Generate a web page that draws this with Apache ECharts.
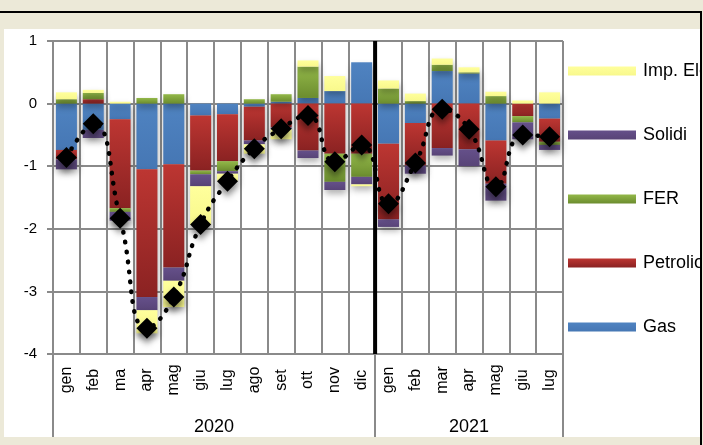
<!DOCTYPE html>
<html>
<head>
<meta charset="utf-8">
<script src="https://cdn.jsdelivr.net/npm/echarts@6/dist/echarts.min.js"></script>
<style>
  html, body { margin: 0; padding: 0; background: #ffffff; }
  #chart { width: 703px; height: 445px; }
</style>
</head>
<body>
<div id="chart"></div>
<script>
// Monthly contributions by source (2020 - mid 2021)
const months = ['gen', 'feb', 'ma', 'apr', 'mag', 'giu', 'lug', 'ago', 'set', 'ott', 'nov', 'dic',
                'gen', 'feb', 'mar', 'apr', 'mag', 'giu', 'lug'];
const years = ['2020', '2021'];
const monthsPerYear = [12, 7];

const gas      = [-0.74, -0.42, -0.25, -1.05, -0.97, -0.19, -0.17, -0.05, 0.03, 0.09, 0.20, 0.66,
                  -0.64, -0.31, 0.52, 0.48, -0.59, 0.00, -0.24];
const petrolio = [-0.15, 0.07, -1.42, -2.04, -1.65, -0.88, -0.75, -0.54, -0.38, -0.75, -0.80, -0.80,
                  -1.21, -0.68, -0.71, -0.73, -0.69, -0.20, -0.37];
const fer      = [0.07, 0.10, -0.06, 0.09, 0.15, -0.06, -0.16, 0.07, 0.12, 0.50, -0.45, -0.37,
                  0.24, 0.04, 0.10, 0.02, 0.12, -0.10, -0.05];
const solidi   = [-0.16, -0.13, -0.14, -0.21, -0.21, -0.19, -0.04, -0.06, -0.03, -0.12, -0.13, -0.12,
                  -0.12, -0.13, -0.12, -0.27, -0.27, -0.27, -0.08];
const impEl    = [0.11, 0.05, 0.03, -0.37, -0.42, -0.62, -0.11, -0.15, -0.16, 0.10, 0.24, -0.03,
                  0.13, 0.12, 0.10, 0.08, 0.07, 0.05, 0.18];
const totale   = [-0.86, -0.32, -1.83, -3.59, -3.09, -1.93, -1.24, -0.72, -0.40, -0.19, -0.93, -0.66,
                  -1.60, -0.95, -0.09, -0.41, -1.33, -0.50, -0.53];

const yMin = -4, yMax = 1, yStep = 1;

// year boundaries and year label positions on a 0..N scale
const yearBounds = [0];
monthsPerYear.forEach(n => yearBounds.push(yearBounds[yearBounds.length - 1] + n));
const yearMids = years.map((y, i) => (yearBounds[i] + yearBounds[i + 1]) / 2);
const totalMonths = yearBounds[yearBounds.length - 1];
const yearBreak = yearBounds[1];

const FONT = '"Liberation Sans", Arial, sans-serif';
const GRID = '#8a8a8a';

function grad(top, bottom) {
  return { type: 'linear', x: 0, y: 0, x2: 0, y2: 1,
           colorStops: [{ offset: 0, color: top }, { offset: 1, color: bottom }] };
}

const shadow = { shadowBlur: 6, shadowOffsetX: 1, shadowOffsetY: 4, shadowColor: 'rgba(0,0,0,0.3)' };

function barSeries(name, data, fill) {
  return {
    name, type: 'bar', stack: 'tot', data,
    barWidth: 21,
    itemStyle: Object.assign({ color: fill }, shadow),
    emphasis: { disabled: true }
  };
}

const chart = echarts.init(document.getElementById('chart'), null, { renderer: 'canvas' });

chart.setOption({
  animation: false,
  backgroundColor: '#ffffff',
  textStyle: { fontFamily: FONT, color: '#000' },
  grid: { left: 53, right: 140, top: 41, bottom: 91 },
  legend: {
    data: ['Imp. Elettrica', 'Solidi', 'FER', 'Petrolio', 'Gas'],
    orient: 'vertical',
    left: 568, top: 62,
    padding: 0,
    itemWidth: 68, itemHeight: 9, itemGap: 46,
    icon: 'rect',
    selectedMode: false,
    textStyle: { fontSize: 18, fontFamily: FONT, color: '#000', lineHeight: 16, padding: [0, 0, 0, 2] }
  },
  xAxis: [
    {
      type: 'category', data: months, position: 'bottom',
      boundaryGap: true,
      axisLine: { show: true, lineStyle: { color: GRID, width: 2 } },
      axisTick: { show: true, interval: 0, length: 48, lineStyle: { color: GRID, width: 2 } },
      splitLine: { show: true, interval: 0, lineStyle: { color: GRID, width: 2 } },
      axisLabel: { interval: 0, rotate: 90, align: 'center', verticalAlign: 'middle', margin: 26,
                   fontSize: 16, fontFamily: FONT, color: '#000' }
    },
    {
      type: 'value', min: 0, max: totalMonths, position: 'bottom',
      axisLine: { show: false },
      splitLine: { show: false },
      axisTick: { show: true, customValues: yearBounds, length: 83, lineStyle: { color: GRID, width: 2 } },
      axisLabel: {
        customValues: yearMids, margin: 64, fontSize: 18, fontFamily: FONT, color: '#000',
        formatter: v => years[yearMids.indexOf(v)] || ''
      }
    }
  ],
  yAxis: {
    type: 'value', min: yMin, max: yMax, interval: yStep,
    axisLine: { show: false },
    axisTick: { show: true, length: 6, lineStyle: { color: GRID, width: 2 } },
    splitLine: { show: true, lineStyle: { color: GRID, width: 2 } },
    axisLabel: { margin: 16, fontSize: 15, fontFamily: FONT, color: '#000' }
  },
  graphic: [
    // window frame around the chart sheet
    { type: 'rect', z: 100, silent: true, shape: { x: 0, y: 0, width: 703, height: 29 }, style: { fill: '#ECE9D8' } },
    { type: 'rect', z: 100, silent: true, shape: { x: 0, y: 437, width: 703, height: 8 }, style: { fill: '#ECE9D8' } },
    { type: 'rect', z: 100, silent: true, shape: { x: 0, y: 0, width: 4, height: 445 }, style: { fill: '#ECE9D8' } },
    { type: 'rect', z: 100, silent: true, shape: { x: 700, y: 0, width: 3, height: 445 }, style: { fill: '#ECE9D8' } },
    { type: 'rect', z: 101, silent: true, shape: { x: 0, y: 11, width: 702, height: 2 }, style: { fill: '#000' } },
    { type: 'rect', z: 101, silent: true, shape: { x: 700, y: 11, width: 2, height: 434 }, style: { fill: '#000' } }
  ],
  series: [
    barSeries('Gas', gas, grad('#4f83c1', '#4677b4')),
    barSeries('Petrolio', petrolio, grad('#bd3632', '#8a2222')),
    barSeries('FER', fer, grad('#93b849', '#6b8c2e')),
    barSeries('Solidi', solidi, grad('#65508a', '#584477')),
    barSeries('Imp. Elettrica', impEl, grad('#ffff9c', '#f8f88c')),
    {
      name: 'Totale', type: 'line', data: totale,
      smooth: true,
      symbol: 'diamond', symbolSize: 21,
      itemStyle: { color: '#000', shadowBlur: 6, shadowOffsetY: 5, shadowColor: 'rgba(0,0,0,0.45)' },
      lineStyle: { color: '#000', width: 4.5, type: [0.5, 9.5], cap: 'round' },
      z: 4,
      emphasis: { disabled: true }
    },
    {
      name: 'separatore', type: 'line', xAxisIndex: 1,
      data: [[yearBreak, yMax], [yearBreak, yMin]],
      symbol: 'none', silent: true, z: 5,
      lineStyle: { color: '#000', width: 4 },
      emphasis: { disabled: true }
    }
  ]
});
</script>
</body>
</html>
